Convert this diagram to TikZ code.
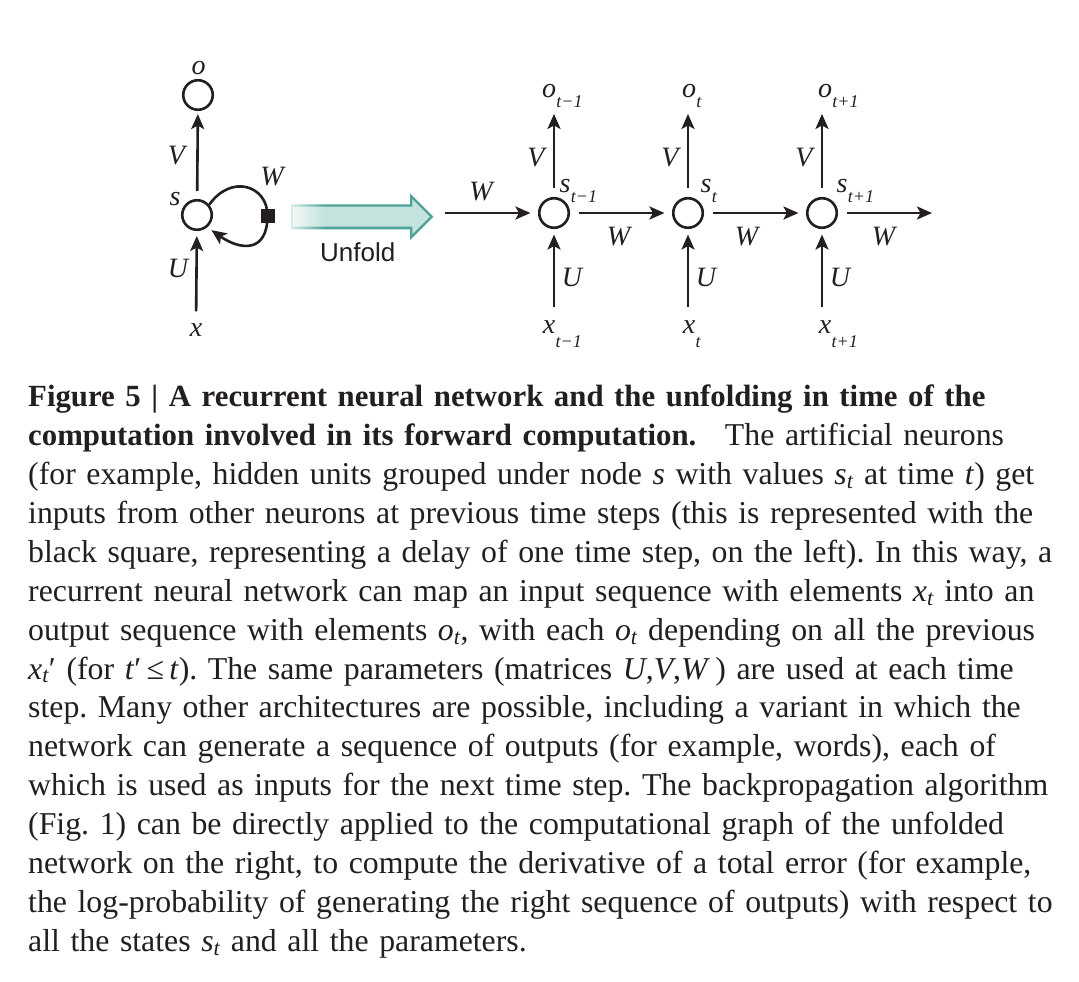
\documentclass[tikz,border=0pt]{standalone}
\usepackage{fontspec}
\setmainfont{Liberation Serif}
\setsansfont{Liberation Sans}
\usetikzlibrary{arrows.meta}
\definecolor{ink}{RGB}{35,31,32}
\definecolor{unfoldfill}{RGB}{196,226,222}
\definecolor{unfoldpale}{RGB}{240,247,246}
\definecolor{unfoldline}{RGB}{78,163,150}
\definecolor{unfoldfaint}{RGB}{216,236,233}
\pgfdeclarehorizontalshading{unfoldbody}{100bp}{color(0bp)=(unfoldpale); color(25bp)=(unfoldpale); color(37bp)=(unfoldfill); color(100bp)=(unfoldfill)}
\pgfdeclarehorizontalshading{unfoldedge}{100bp}{color(0bp)=(unfoldfaint); color(25bp)=(unfoldfaint); color(37bp)=(unfoldline); color(100bp)=(unfoldline)}
\newcommand{\sbt}{\textsubscript{\itshape t}}

\begin{document}
\begin{tikzpicture}[x=1pt,y=1pt,
    unit/.style={circle, draw=ink, line width=2.6pt, minimum size=29.5pt, inner sep=0pt},
    flow/.style={draw=ink, line width=2.6pt, -{Stealth[length=15pt,width=13pt,inset=3.5pt]}},
    lbl/.style={inner sep=0pt, text=ink, font=\fontsize{28}{28}\selectfont\itshape},
    sub/.style={inner sep=0pt, text=ink, font=\fontsize{18}{18}\selectfont\itshape},
    delaybox/.style={fill=ink, minimum size=14pt, inner sep=0pt},
    caption/.style={inner sep=0pt, text=ink, text width=1048pt, align=left,
        font=\fontsize{31.8}{38.93}\selectfont\frenchspacing}]
\useasboundingbox[fill=white] (0,0) rectangle (1079,-982);

\node[unit] (s) at (197,-215) {};
\node[unit] (o) at (198,-95) {};
\node[lbl] (olab) at (198.5,-68.5) {o};
\node[lbl] (slab) at (175,-199) {s};
\node[lbl] at (176.5,-156) {V};
\node[lbl] at (272,-176.5) {W};
\node[lbl] at (178,-268) {U};
\node[lbl] (x) at (196,-330) {x};
\node[delaybox] (sq) at (267.5,-215.5) {};
\draw[flow, shorten <=8pt, shorten >=3pt] (s) -- (o);
\draw[flow, shorten <=12pt, shorten >=5pt] (x) -- (s);
\draw[draw=ink, line width=2.6pt] (s.40) .. controls +(55:38) and +(90:30) .. (sq.center);
\draw[flow, shorten >=5pt] (sq.center) .. controls +(-90:38) and +(-35:40) .. (s.-50);

\shade[shading=unfoldedge] (291,-204.3) -- (410,-204.3) -- (410,-193.3) -- (433.3,-216.7)
    -- (410,-240) -- (410,-229.3) -- (291,-229.3) -- cycle;
\shade[shading=unfoldbody] (293.4,-206.7) -- (412.4,-206.7) -- (412.4,-199.2) -- (429.9,-216.7)
    -- (412.4,-234.2) -- (412.4,-226.6) -- (293.4,-226.6) -- cycle;
\node[anchor=base west, inner sep=0pt, text=ink, font=\fontsize{26}{26}\selectfont\sffamily]
    (unfold) at (320,-261.7) {Unfold};

\foreach \i/\x/\t/\dx/\sx in {1/554/{t−1}/-5/11, 2/688/t/1/18, 3/822/{t+1}/3/20}{
    \node[unit] (s\i) at (\x,-213) {};
    \node[lbl] (o\i) at (\x+\dx,-91) {o};
    \node[sub, anchor=base west] at ([yshift=-10pt]o\i.base east) {\t};
    \node[lbl] (x\i) at (\x+\dx,-327) {x};
    \node[sub, anchor=base west] at ([yshift=-14pt]x\i.base east) {\t};
    \node[lbl] (sl\i) at (\x+\sx,-186) {s};
    \node[sub, anchor=base west] at ([yshift=-10.5pt]sl\i.base east) {\t};
    \node[lbl] at (\x-18,-158) {V};
    \node[lbl] at (\x+18,-277) {U};
    \draw[flow, shorten <=9pt, shorten >=16pt] (s\i) -- (s\i |- o\i.south);
    \draw[flow, shorten <=13pt, shorten >=5.5pt] (s\i |- x\i.north) -- (s\i);
}

\coordinate (win) at (445,-213);
\coordinate (wout) at (932,-213);
\draw[flow, shorten >=7.5pt] (win) -- (s1);
\draw[flow, shorten <=8.5pt, shorten >=7.5pt] (s1) -- (s2);
\draw[flow, shorten <=8.5pt, shorten >=7.5pt] (s2) -- (s3);
\draw[flow, shorten <=8.5pt] (s3) -- (wout);
\node[lbl] at (481,-191.5) {W};
\node[lbl] at (618.5,-236.5) {W};
\node[lbl] at (746.5,-236.5) {W};
\node[lbl] at (883.5,-236.5) {W};

\node[caption, anchor=base west] (cap) at (28,-406.5) {%
{\bfseries\fontsize{30.8}{38.93}\selectfont Figure 5 | A recurrent neural network and the unfolding in time of the\\
computation involved in its forward computation.}\hspace{0.9em}The artificial neurons\\
(for example, hidden units grouped under node \textit{s} with values \textit{s}\sbt{} at time \textit{t}) get\\
inputs from other neurons at previous time steps (this is represented with the\\
black square, representing a delay of one time step, on the left). In this way, a\\
recurrent neural network can map an input sequence with elements \textit{x}\sbt{} into an\\
output sequence with elements \textit{o}\sbt, with each \textit{o}\sbt{} depending on all the previous\\
\textit{x}\sbt′ (for \textit{t}′\,≤\,\textit{t}). The same parameters (matrices \textit{U},\textit{V},\textit{W}\,) are used at each time\\
step. Many other architectures are possible, including a variant in which the\\
network can generate a sequence of outputs (for example, words), each of\\
which is used as inputs for the next time step. The backpropagation algorithm\\
(Fig. 1) can be directly applied to the computational graph of the unfolded\\
network on the right, to compute the derivative of a total error (for example,\\
the log-probability of generating the right sequence of outputs) with respect to\\
all the states \textit{s}\sbt{} and all the parameters.};
\end{tikzpicture}
\end{document}
